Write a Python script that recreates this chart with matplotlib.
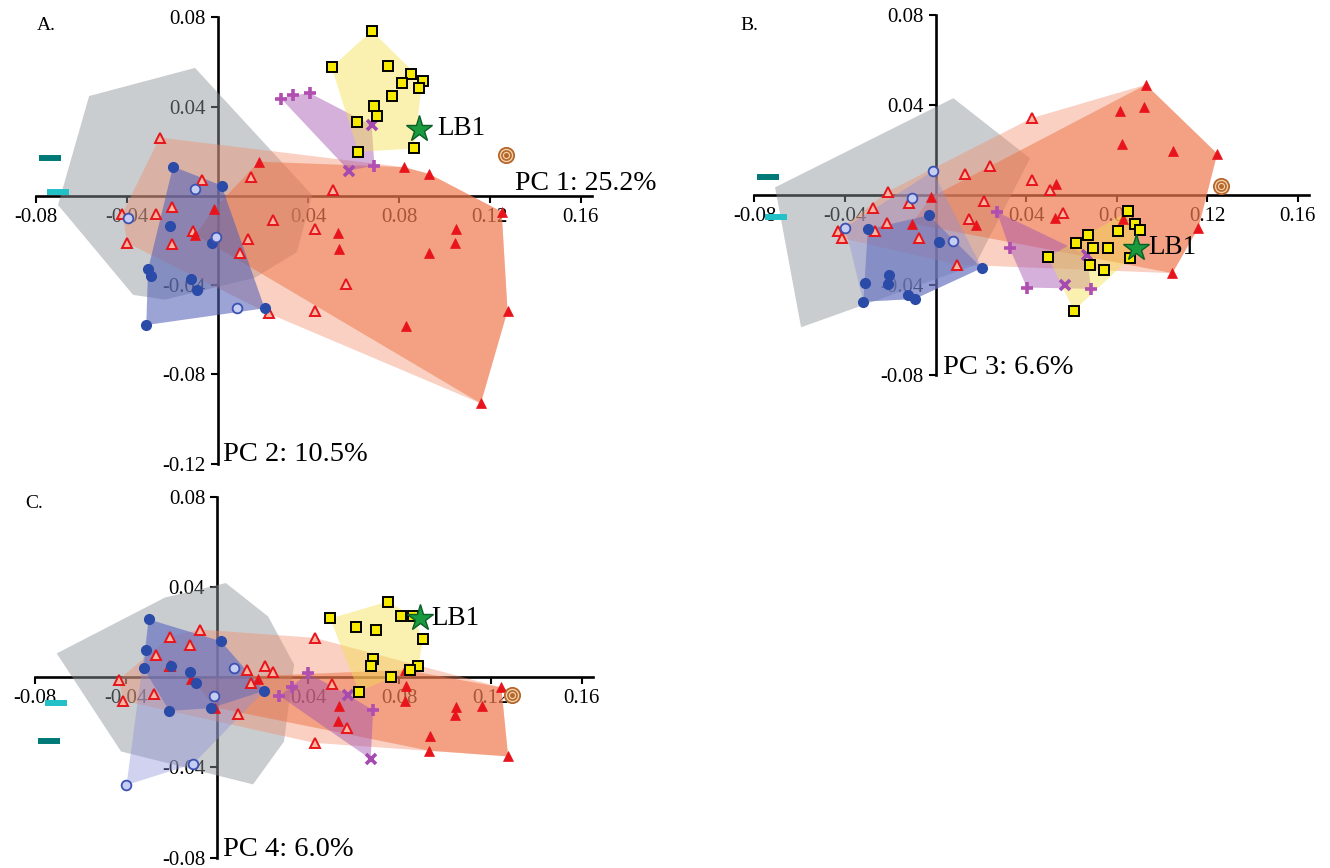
import numpy as np
import matplotlib
matplotlib.use("Agg")
import matplotlib.pyplot as plt

plt.rcParams['font.family'] = ['Liberation Serif', 'DejaVu Serif']
plt.rcParams['axes.unicode_minus'] = False

# ---------------- DATA ----------------
x_ticks = [-0.08, -0.04, 0.04, 0.08, 0.12, 0.16]
x_tick_labels = ["-0.08", "-0.04", "0.04", "0.08", "0.12", "0.16"]
yA_ticks = [0.08, 0.04, -0.04, -0.08, -0.12]
yA_tick_labels = ["0.08", "0.04", "-0.04", "-0.08", "-0.12"]
yBC_ticks = [0.08, 0.04, -0.04, -0.08]
yBC_tick_labels = ["0.08", "0.04", "-0.04", "-0.08"]

# Panel A : PC1 vs PC2
A_sq_x = [0.0679, 0.0502, 0.0750, 0.0851, 0.0903, 0.0811, 0.0887, 0.0767, 0.0691, 0.0701, 0.0612, 0.0865, 0.0620]
A_sq_y = [0.0739, 0.0576, 0.0580, 0.0546, 0.0516, 0.0504, 0.0484, 0.0445, 0.0401, 0.0358, 0.0329, 0.0212, 0.0197]
A_fc_x = [-0.0197, 0.0017, -0.0209, -0.0025, -0.0307, -0.0295, -0.0116, -0.0093, 0.0207, -0.0315]
A_fc_y = [0.0131, 0.0046, -0.0134, -0.0211, -0.0329, -0.0359, -0.0371, -0.0423, -0.0504, -0.0579]
A_oc_x = [-0.0099, -0.0394, -0.0008, 0.0084]
A_oc_y = [0.0030, -0.0099, -0.0184, -0.0503]
A_ot_x = [-0.0256, -0.0071, 0.0148, 0.0507, -0.0420, -0.0273, -0.0202, -0.0108, -0.0399, -0.0202, 0.0135, 0.0244, 0.0098, 0.0430, 0.0566, 0.0430, 0.0224]
A_ot_y = [0.0261, 0.0070, 0.0083, 0.0027, -0.0080, -0.0082, -0.0050, -0.0156, -0.0211, -0.0218, -0.0193, -0.0110, -0.0258, -0.0148, -0.0396, -0.0515, -0.0527]
A_ft_x = [0.0182, 0.0823, 0.0932, -0.0017, -0.0098, 0.1252, 0.1050, 0.0531, 0.0536, 0.1047, 0.0932, 0.0831, 0.1278, 0.1160]
A_ft_y = [0.0153, 0.0128, 0.0098, -0.0059, -0.0174, -0.0071, -0.0148, -0.0166, -0.0240, -0.0212, -0.0258, -0.0582, -0.0515, -0.0930]
A_plus_x = [0.0280, 0.0330, 0.0406, 0.0691]
A_plus_y = [0.0435, 0.0450, 0.0460, 0.0135]
A_cross_x = [0.0679, 0.0578]
A_cross_y = [0.0316, 0.0113]
A_star = (0.0887, 0.0301)
A_bull = (0.1269, 0.0185)
A_dteal = (-0.0738, 0.0170)
A_cyan = (-0.0704, 0.0015)
A_grey_x = [-0.0567, -0.0100, 0.0416, 0.0350, 0.0164, -0.0232, -0.0373, -0.0704]
A_grey_y = [0.0447, 0.0573, 0.0004, -0.0252, -0.0367, -0.0465, -0.0444, -0.0041]

# Panel B : PC1 vs PC3
B_sq_x = [0.0850, 0.0882, 0.0903, 0.0808, 0.0675, 0.0622, 0.0696, 0.0763, 0.0861, 0.0498, 0.0684, 0.0746, 0.0611]
B_sq_y = [-0.0073, -0.0127, -0.0157, -0.0160, -0.0178, -0.0213, -0.0238, -0.0235, -0.0280, -0.0277, -0.0310, -0.0334, -0.0515]
B_fc_x = [-0.0030, -0.0299, 0.0014, 0.0205, -0.0204, -0.0211, -0.0313, -0.0122, -0.0092, -0.0319]
B_fc_y = [-0.0090, -0.0153, -0.0208, -0.0325, -0.0355, -0.0397, -0.0390, -0.0445, -0.0463, -0.0475]
B_oc_x = [-0.0012, -0.0104, -0.0399, 0.0076]
B_oc_y = [0.0106, -0.0013, -0.0145, -0.0205]
B_ot_x = [0.0425, 0.0241, 0.0129, 0.0427, 0.0505, -0.0211, -0.0119, 0.0214, -0.0275, 0.0563, 0.0147, -0.0213, -0.0266, -0.0429, -0.0411, -0.0074, 0.0094]
B_ot_y = [0.0342, 0.0129, 0.0094, 0.0069, 0.0024, 0.0015, -0.0037, -0.0025, -0.0058, -0.0081, -0.0108, -0.0123, -0.0160, -0.0160, -0.0193, -0.0193, -0.0310]
B_ft_x = [0.0930, 0.0817, 0.0923, 0.0825, 0.1050, 0.1245, 0.0533, -0.0021, 0.0528, 0.0829, -0.0104, 0.0179, 0.1162, 0.1047]
B_ft_y = [0.0491, 0.0372, 0.0394, 0.0225, 0.0196, 0.0184, 0.0049, -0.0010, -0.0103, -0.0105, -0.0127, -0.0133, -0.0145, -0.0348]
B_plus_x = [0.0271, 0.0328, 0.0404, 0.0687]
B_plus_y = [-0.0075, -0.0238, -0.0412, -0.0418]
B_cross_x = [0.0670, 0.0572]
B_cross_y = [-0.0268, -0.0400]
B_star = (0.0887, -0.0235)
B_bull = (0.1263, 0.0042)
B_dteal = (-0.0738, 0.0081)
B_cyan = (-0.0706, -0.0099)
B_grey_x = [-0.0709, 0.0079, 0.0418, 0.0175, -0.0594]
B_grey_y = [0.0034, 0.0431, 0.0163, -0.0312, -0.0589]

# Panel C : PC1 vs PC4
C_sq_x = [0.0749, 0.0496, 0.0808, 0.0858, 0.0610, 0.0697, 0.0904, 0.0685, 0.0674, 0.0883, 0.0848, 0.0764, 0.0622]
C_sq_y = [0.0336, 0.0261, 0.0272, 0.0272, 0.0224, 0.0209, 0.0169, 0.0082, 0.0052, 0.0048, 0.0033, 0.0003, -0.0063]
C_fc_x = [-0.0300, -0.0313, 0.0017, -0.0322, -0.0201, -0.0120, -0.0092, 0.0207, -0.0028, -0.0209]
C_fc_y = [0.0257, 0.0119, 0.0160, 0.0040, 0.0052, 0.0025, -0.0025, -0.0060, -0.0137, -0.0149]
C_oc_x = [0.0076, -0.0015, -0.0104, -0.0397]
C_oc_y = [0.0042, -0.0082, -0.0384, -0.0478]
C_ot_x = [-0.0075, -0.0208, -0.0118, 0.0428, -0.0268, 0.0131, 0.0212, 0.0244, -0.0431, 0.0148, 0.0504, -0.0275, -0.0411, 0.0093, 0.0568, 0.0428, -0.0208]
C_ot_y = [0.0212, 0.0179, 0.0142, 0.0175, 0.0097, 0.0033, 0.0049, 0.0022, -0.0010, -0.0027, -0.0030, -0.0072, -0.0104, -0.0164, -0.0224, -0.0291, 0.0048]
C_ft_x = [0.0825, 0.0828, 0.0825, 0.1247, 0.0534, 0.1047, 0.1164, 0.1043, 0.0529, 0.0933, 0.0928, 0.1277, 0.0182, -0.0008, -0.0112]
C_ft_y = [0.0033, -0.0037, -0.0104, -0.0045, -0.0127, -0.0131, -0.0127, -0.0167, -0.0194, -0.0261, -0.0325, -0.0351, -0.0007, -0.0134, -0.0007]
C_plus_x = [0.0400, 0.0328, 0.0274, 0.0685]
C_plus_y = [0.0018, -0.0042, -0.0082, -0.0146]
C_cross_x = [0.0573, 0.0674]
C_cross_y = [-0.0078, -0.0363]
C_star = (0.0890, 0.0261)
C_bull = (0.1293, -0.0078)
C_dteal = (-0.0736, -0.0281)
C_cyan = (-0.0705, -0.0113)
C_grey_x = [-0.0703, -0.0228, 0.0039, 0.0224, 0.0338, 0.0294, 0.0158, -0.0421]
C_grey_y = [0.0106, 0.0354, 0.0418, 0.0270, 0.0057, -0.0285, -0.0475, -0.0329]

# ---------------- HELPERS ----------------
W, H = 1330, 868
fig = plt.figure(figsize=(13.3, 8.68), dpi=100)


def make_ax(x0, sx, y0, sy, xlim, ylim):
    left = x0 + sx * xlim[0]
    right = x0 + sx * xlim[1]
    top = y0 - sy * ylim[1]
    bottom = y0 - sy * ylim[0]
    ax = fig.add_axes([left / W, 1 - bottom / H, (right - left) / W, (bottom - top) / H])
    ax.set_xlim(xlim)
    ax.set_ylim(ylim)
    return ax


def convex_hull(xs, ys):
    pts = sorted(set(zip(xs, ys)))
    if len(pts) < 3:
        return np.array(pts)

    def cross(o, a, b):
        return (a[0] - o[0]) * (b[1] - o[1]) - (a[1] - o[1]) * (b[0] - o[0])
    lower = []
    for p in pts:
        while len(lower) >= 2 and cross(lower[-2], lower[-1], p) <= 0:
            lower.pop()
        lower.append(p)
    upper = []
    for p in reversed(pts):
        while len(upper) >= 2 and cross(upper[-2], upper[-1], p) <= 0:
            upper.pop()
        upper.append(p)
    return np.array(lower[:-1] + upper[:-1])


def fill_hull(ax, xs, ys, color, alpha, z):
    h = convex_hull(xs, ys)
    ax.fill(h[:, 0], h[:, 1], color=color, alpha=alpha, lw=0, zorder=z)


def style_axes(ax, yticks, ylabels, ybottom):
    ax.patch.set_visible(False)
    for s in ['top', 'right']:
        ax.spines[s].set_visible(False)
    ax.spines['left'].set_position(('data', 0))
    ax.spines['bottom'].set_position(('data', 0))
    ax.spines['left'].set_bounds(ybottom, 0.08)
    ax.spines['bottom'].set_bounds(-0.08, 0.165)
    for s in ['left', 'bottom']:
        ax.spines[s].set_linewidth(1.9)
        ax.spines[s].set_zorder(2)
    ax.set_xticks(x_ticks)
    ax.set_xticklabels(x_tick_labels)
    ax.set_yticks(yticks)
    ax.set_yticklabels(ylabels)
    ax.tick_params(direction='out', length=5, width=1.5, labelsize=15, pad=3.5, colors='black')
    ax.xaxis.set_zorder(2)
    ax.yaxis.set_zorder(2)


def draw_panel(ax, d, lb1_dx, light_circle_hull):
    # polygons
    ax.fill(d['grey_x'], d['grey_y'], color='#8e9599', alpha=0.47, lw=0, zorder=3)
    fill_hull(ax, d['ot_x'] + d['ft_x'], d['ot_y'] + d['ft_y'], '#f28a66', 0.40, 3.1)
    fill_hull(ax, d['ft_x'], d['ft_y'], '#ee7246', 0.50, 3.2)
    if light_circle_hull:
        fill_hull(ax, d['oc_x'] + d['fc_x'], d['oc_y'] + d['fc_y'], '#8c8fd8', 0.40, 3.3)
        fill_hull(ax, d['fc_x'], d['fc_y'], '#5b6ab9', 0.50, 3.4)
    else:
        fill_hull(ax, d['fc_x'], d['fc_y'], '#5561b8', 0.58, 3.4)
    fill_hull(ax, d['plus_x'] + d['cross_x'], d['plus_y'] + d['cross_y'], '#a050b0', 0.45, 3.5)
    fill_hull(ax, d['sq_x'], d['sq_y'], '#f5e050', 0.45, 3.6)

    # markers
    ax.plot(d['ot_x'], d['ot_y'], ls='none', marker='^', ms=7.5, mfc='#f7b6a2', mec='#e8141c', mew=1.4, zorder=10)
    ax.plot(d['ft_x'], d['ft_y'], ls='none', marker='^', ms=7.5, mfc='#e8141c', mec='#e8141c', mew=0.5, zorder=10)
    ax.plot(d['fc_x'], d['fc_y'], ls='none', marker='o', ms=7, mfc='#2b4ba8', mec='#2b4ba8', zorder=11)
    ax.plot(d['oc_x'], d['oc_y'], ls='none', marker='o', ms=7, mfc='#c6cdf2', mec='#3b52b2', mew=1.3, zorder=11)
    ax.plot(d['plus_x'], d['plus_y'], ls='none', marker='+', ms=9, mec='#b04fb0', mew=2.6, zorder=11)
    ax.plot(d['cross_x'], d['cross_y'], ls='none', marker='x', ms=7, mec='#a44ab0', mew=2.6, zorder=11)
    ax.plot(d['sq_x'], d['sq_y'], ls='none', marker='s', ms=7, mfc='#f5ea00', mec='black', mew=1.4, zorder=12)
    ax.plot([d['dteal'][0]], [d['dteal'][1]], ls='none', marker='_', ms=16, mec='#007a78', mew=4.3, zorder=12)
    ax.plot([d['cyan'][0]], [d['cyan'][1]], ls='none', marker='_', ms=16, mec='#22c1c8', mew=4.3, zorder=12)
    bx, by = d['bull']
    ax.plot([bx], [by], ls='none', marker='o', ms=11, mfc='#f4d3ab', mec='#b5662a', mew=1.3, zorder=12)
    ax.plot([bx], [by], ls='none', marker='o', ms=6.5, mfc='none', mec='#b5662a', mew=1.2, zorder=12)
    ax.plot([bx], [by], ls='none', marker='o', ms=2.5, mfc='#b5662a', mec='#b5662a', zorder=12)
    sx, sy = d['star']
    ax.plot([sx], [sy], ls='none', marker='*', ms=20, mfc='#1a9a3f', mec='#0b5e26', mew=1.0, zorder=13)
    ax.annotate('LB1', (sx, sy), xytext=(lb1_dx, 0), textcoords='offset points',
                va='center', ha='left', fontsize=19.5, zorder=14)


def pack(p):
    g = globals()
    keys = ['sq_x', 'sq_y', 'fc_x', 'fc_y', 'oc_x', 'oc_y', 'ot_x', 'ot_y', 'ft_x', 'ft_y',
            'plus_x', 'plus_y', 'cross_x', 'cross_y', 'star', 'bull', 'dteal', 'cyan', 'grey_x', 'grey_y']
    return {k: g[p + '_' + k] for k in keys}


# ---------------- PANEL A ----------------
axA = make_ax(217.7, 2268, 195.8, 2232, (-0.095, 0.175), (-0.13, 0.085))
style_axes(axA, yA_ticks, yA_tick_labels, -0.12)
draw_panel(axA, pack('A'), 13.5, False)
axA.text(0.131, 0.0028, 'PC 1: 25.2%', fontsize=20, va='baseline', ha='left', zorder=14)
axA.text(0.0025, -0.1187, 'PC 2: 10.5%', fontsize=20.5, va='baseline', ha='left', zorder=14)

# ---------------- PANEL B ----------------
axB = make_ax(935.5, 2263, 195.0, 2246, (-0.095, 0.172), (-0.09, 0.085))
style_axes(axB, yBC_ticks, yBC_tick_labels, -0.08)
draw_panel(axB, pack('B'), 9, True)
axB.text(0.0035, -0.0795, 'PC 3: 6.6%', fontsize=20.5, va='baseline', ha='left', zorder=14)

# ---------------- PANEL C ----------------
axC = make_ax(217.0, 2280, 677.3, 2254, (-0.095, 0.175), (-0.085, 0.085))
style_axes(axC, yBC_ticks, yBC_tick_labels, -0.08)
draw_panel(axC, pack('C'), 8, True)
axC.text(0.0025, -0.0795, 'PC 4: 6.0%', fontsize=20.5, va='baseline', ha='left', zorder=14)

# panel letters
fig.text(37 / W, 1 - 30.5 / H, 'A.', fontsize=14, va='baseline', ha='left')
fig.text(740 / W, 1 - 30.5 / H, 'B.', fontsize=14, va='baseline', ha='left')
fig.text(25 / W, 1 - 508 / H, 'C.', fontsize=14, va='baseline', ha='left')

fig.savefig('out.png', dpi=100)
